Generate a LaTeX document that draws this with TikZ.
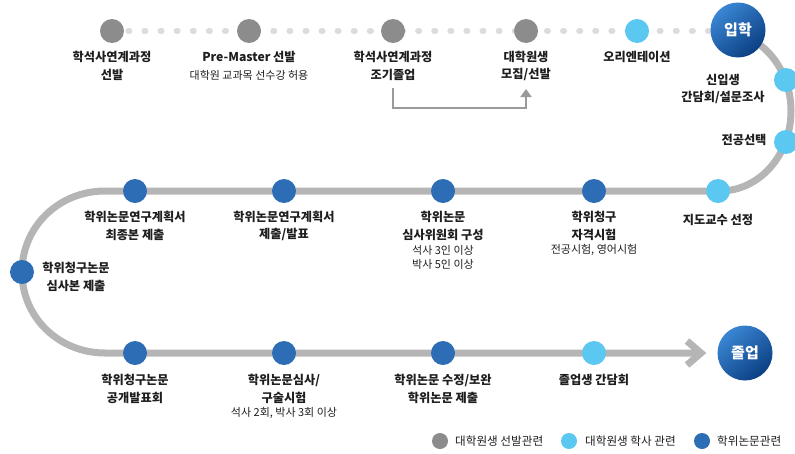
\documentclass[tikz,border=0pt]{standalone}
\usepackage{fontspec}
\setmainfont{Noto Sans CJK KR}
\usetikzlibrary{arrows.meta}
\definecolor{trackgray}{HTML}{B5B5B5}
\definecolor{dotgray}{HTML}{DCDCDC}
\definecolor{gcirc}{HTML}{8C8C8C}
\definecolor{lblue}{HTML}{5BC8F2}
\definecolor{dblue}{HTML}{2D6DB5}
\definecolor{navyA}{HTML}{3A86D4}
\definecolor{navyB}{HTML}{0B3F82}
\definecolor{txt}{HTML}{1E1E1E}
\definecolor{elbow}{HTML}{9A9A9A}
\tikzset{
  track/.style={draw=trackgray, line width=7pt},
  dots/.style={draw=dotgray, line width=5.5pt, line cap=round, dash pattern=on 1.5pt off 14.6pt},
  gdot/.style={circle, fill=gcirc, minimum size=24pt, inner sep=0pt},
  lbdot/.style={circle, fill=lblue, minimum size=24pt, inner sep=0pt},
  bdot/.style={circle, fill=dblue, minimum size=24pt, inner sep=0pt},
  bigc/.style={circle, minimum size=55pt, inner sep=0pt, top color=navyA, bottom color=navyB, shading angle=40, text=white, font=\bfseries\fontsize{15}{17}\selectfont},
  lbl/.style={align=center, inner sep=0pt, text=txt, font=\bfseries\fontsize{12.2}{17.5}\selectfont},
  sub/.style={align=center, inner sep=0pt, text=txt, font=\fontsize{11}{14}\selectfont},
  legdot/.style={circle, minimum size=16pt, inner sep=0pt},
  legtxt/.style={anchor=west, inner sep=0pt, text=txt, font=\fontsize{11.6}{13}\selectfont},
}
\begin{document}
\begin{tikzpicture}[x=1pt, y=-1pt]
\useasboundingbox (0,0) rectangle (795,453);
% track coordinates
\coordinate (rtop) at (720,31);
\coordinate (rmid) at (791,111);
\coordinate (rbot) at (720,191);
\coordinate (ltop) at (105,191);
\coordinate (lmid) at (22,272);
\coordinate (lbot) at (105,353);
\coordinate (aend) at (699,353);
\coordinate (atip) at (701,353);
\coordinate (aup) at (687,341);
\coordinate (adn) at (687,365);
\coordinate (dstart) at (112,31);
\coordinate (dend) at (720,31);
% dotted top line
\draw[dots] (dstart) -- (dend);
% main track
\draw[track] (rtop) .. controls (759.2,31) and (791,66.8) .. (rmid)
  .. controls (791,155.2) and (759.2,191) .. (rbot) -- (ltop)
  .. controls (59.2,191) and (22,226.3) .. (lmid)
  .. controls (22,317.7) and (59.2,353) .. (lbot) -- (aend);
\draw[track, line join=miter] (aup) -- (atip) -- (adn);
% top row
\node[gdot] (t1) at (112,31) {};
\node[gdot] (t2) at (249,31) {};
\node[gdot] (t3) at (393,31) {};
\node[gdot] (t4) at (526,31) {};
\node[lbdot] (t5) at (637,31) {};
\node[bigc] (in) at (738,30) {입학};
% right curve
\node[lbdot] (r1) at (786,80) {};
\node[lbdot] (r2) at (786,142) {};
\node[lbdot] (m0) at (718,191) {};
% middle row
\node[bdot] (m1) at (594,191) {};
\node[bdot] (m2) at (443,191) {};
\node[bdot] (m3) at (284,191) {};
\node[bdot] (m4) at (135,191) {};
\node[bdot] (l1) at (22,272) {};
% bottom row
\node[bdot] (b1) at (135,353) {};
\node[bdot] (b2) at (284,353) {};
\node[bdot] (b3) at (443,353) {};
\node[lbdot] (b4) at (594,353) {};
\node[bigc] (out) at (745,353) {졸업};
% elbow arrow
\coordinate (e1) at (393,88);
\coordinate (e2) at (526,89);
\draw[elbow, line width=2.6pt, -{Triangle[length=8pt,width=11pt]}] (e1) |- (526,108) -- (e2);
% labels top
\node[lbl] (tl1) at (112,66) {학석사연계과정\\선발};
\node[lbl] (tl2) at (249,57) {Pre-Master 선발};
\node[sub] (ts2) at (249,75) {대학원 교과목 선수강 허용};
\node[lbl] (tl3) at (393,66) {학석사연계과정\\조기졸업};
\node[lbl] (tl4) at (526,66) {대학원생\\모집/선발};
\node[lbl] (tl5) at (637,57) {오리엔테이션};
\node[lbl] (rl1) at (723,89) {신입생\\간담회/설문조사};
\node[lbl] (rl2) at (744,140) {전공선택};
\node[lbl] (ml0) at (718,220) {지도교수 선정};
% labels middle
\node[lbl] (ml1) at (594,226) {학위청구\\자격시험};
\node[sub] (ms1) at (594,250) {전공시험, 영어시험};
\node[lbl] (ml2) at (443,226) {학위논문\\심사위원회 구성};
\node[sub] (ms2) at (443,257) {석사 3인 이상\\박사 5인 이상};
\node[lbl] (ml3) at (284,226) {학위논문연구계획서\\제출/발표};
\node[lbl] (ml4) at (135,226) {학위논문연구계획서\\최종본 제출};
\node[lbl] (ll1) at (76,277) {학위청구논문\\심사본 제출};
% labels bottom
\node[lbl] (bl1) at (135,389) {학위청구논문\\공개발표회};
\node[lbl] (bl2) at (284,389) {학위논문심사/\\구술시험};
\node[sub] (bs2) at (284,413) {석사 2회, 박사 3회 이상};
\node[lbl] (bl3) at (443,389) {학위논문 수정/보완\\학위논문 제출};
\node[lbl] (bl4) at (594,380) {졸업생 간담회};
% legend
\node[legdot, fill=gcirc] (g1) at (440,441) {};
\node[legtxt] (g1t) at (455,441) {대학원생 선발관련};
\node[legdot, fill=lblue] (g2) at (569,441) {};
\node[legtxt] (g2t) at (585,441) {대학원생 학사 관련};
\node[legdot, fill=dblue] (g3) at (702,441) {};
\node[legtxt] (g3t) at (717,441) {학위논문관련};
\end{tikzpicture}
\end{document}
